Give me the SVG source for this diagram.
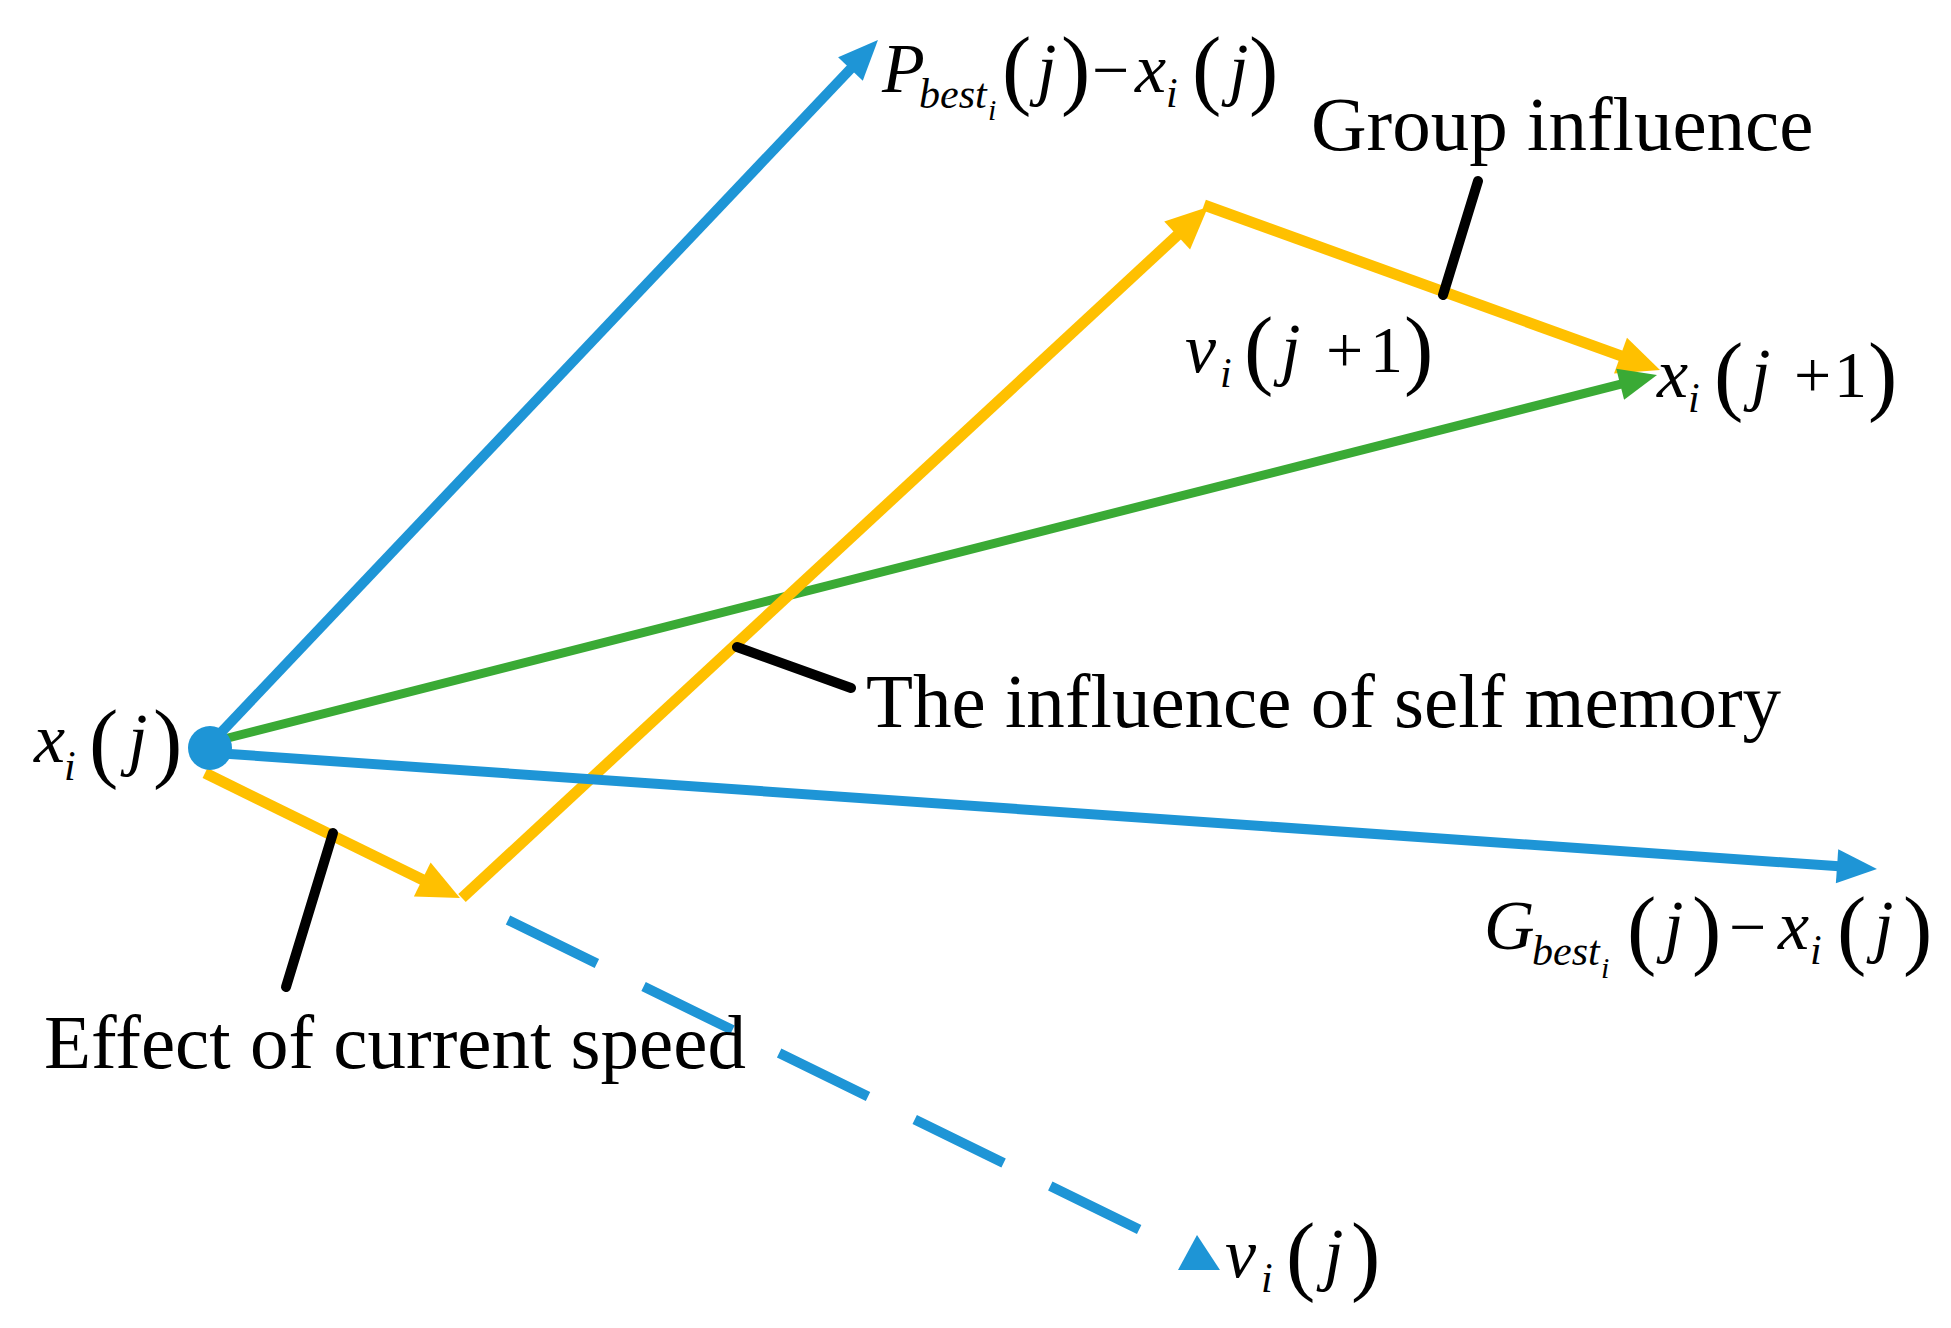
<svg xmlns="http://www.w3.org/2000/svg" width="1951" height="1328" viewBox="0 0 1951 1328">
<style>
.lbl{font-family:"Liberation Serif","Times New Roman",serif;font-size:77px;fill:#000}
.m{font-family:"Liberation Serif","Times New Roman",serif;font-size:70px;fill:#000;font-style:italic}
.r{font-style:normal;font-size:66px}
.p{font-style:normal;font-size:88px}
.s{font-size:42px}
.ss{font-size:30px}
.blue{stroke:#1e95d6;stroke-width:10;fill:none}
.yel{stroke:#ffc000;stroke-width:11;fill:none}
.grn{stroke:#3aaa35;stroke-width:9;fill:none}
.lead{stroke:#000;stroke-width:10;stroke-linecap:round;fill:none}
</style>
<defs>
<marker id="ab" markerUnits="userSpaceOnUse" orient="auto" refX="20" refY="0" markerWidth="44" markerHeight="40" viewBox="0 -20 44 40" overflow="visible"><path d="M0,-17 L40,0 L0,17 Z" fill="#1e95d6"/></marker>
<marker id="ay" markerUnits="userSpaceOnUse" orient="auto" refX="22" refY="0" markerWidth="44" markerHeight="40" viewBox="0 -20 44 40" overflow="visible"><path d="M0,-19 L42,0 L0,19 Z" fill="#ffc000"/></marker>
<marker id="ag" markerUnits="userSpaceOnUse" orient="auto" refX="18" refY="0" markerWidth="40" markerHeight="36" viewBox="0 -18 40 36" overflow="visible"><path d="M0,-16 L38,0 L0,16 Z" fill="#3aaa35"/></marker>
</defs>
<rect width="1951" height="1328" fill="#fff"/>
<g id="connectors">
<path class="blue" d="M508,920 L1140,1230" stroke-dasharray="99 52"/>
<polygon points="1178,1270 1197,1235 1220,1270" fill="#1e95d6"/>
<line class="yel" x1="205" y1="773" x2="442" y2="889.2" marker-end="url(#ay)"/>
<line class="yel" x1="1204" y1="205" x2="1641.2" y2="363.2" marker-end="url(#ay)"/>
<line class="grn" x1="220" y1="740" x2="1637.6" y2="379.9" marker-end="url(#ag)"/>
<line class="yel" x1="462" y1="898" x2="1193.3" y2="220.5" marker-end="url(#ay)"/>
<line class="blue" x1="212" y1="742" x2="864.2" y2="54.5" marker-end="url(#ab)"/>
<line class="blue" x1="215" y1="753" x2="1857" y2="867.6" marker-end="url(#ab)"/>
<line class="lead" x1="333" y1="833" x2="286" y2="987"/>
<line class="lead" x1="737" y1="647" x2="851" y2="688"/>
<line class="lead" x1="1478" y1="181" x2="1443" y2="295"/>
</g>
<g id="origin"><circle cx="210" cy="748" r="22" fill="#1e95d6"/></g>
<g id="label-xi-j">
<text class="m"><tspan x="34" y="762">x</tspan><tspan class="s" x="64" y="780">i</tspan><tspan class="p" x="89" y="771">(</tspan><tspan x="128" y="762">j</tspan><tspan class="p" x="153" y="771">)</tspan></text>
</g>
<g id="label-pbest">
<text class="m"><tspan x="882" y="92">P</tspan><tspan class="s" x="919" y="108">best</tspan><tspan class="ss" x="988" y="120">i</tspan><tspan class="p" x="1002" y="98">(</tspan><tspan x="1037" y="92">j</tspan><tspan class="p" x="1061" y="98">)</tspan><tspan class="r" x="1092" y="92">−</tspan><tspan x="1135" y="92">x</tspan><tspan class="s" x="1166" y="107">i</tspan><tspan class="p" x="1192" y="98">(</tspan><tspan x="1229" y="92">j</tspan><tspan class="p" x="1249" y="98">)</tspan></text>
</g>
<g id="label-gbest">
<text class="m"><tspan x="1484" y="949">G</tspan><tspan class="s" x="1532" y="965">best</tspan><tspan class="ss" x="1601" y="978">i</tspan><tspan class="p" x="1627" y="958">(</tspan><tspan x="1664" y="949">j</tspan><tspan class="p" x="1692" y="958">)</tspan><tspan class="r" x="1729" y="949">−</tspan><tspan x="1778" y="949">x</tspan><tspan class="s" x="1810" y="964">i</tspan><tspan class="p" x="1837" y="958">(</tspan><tspan x="1874" y="949">j</tspan><tspan class="p" x="1903" y="958">)</tspan></text>
</g>
<g id="label-vi-j1">
<text class="m"><tspan x="1185" y="372">v</tspan><tspan class="s" x="1220" y="387">i</tspan><tspan class="p" x="1244" y="378">(</tspan><tspan x="1281" y="372">j</tspan><tspan class="r" x="1326" y="372">+</tspan><tspan class="r" x="1370" y="372">1</tspan><tspan class="p" x="1404" y="378">)</tspan></text>
</g>
<g id="label-xi-j1">
<text class="m"><tspan x="1657" y="397">x</tspan><tspan class="s" x="1688" y="412">i</tspan><tspan class="p" x="1714" y="404">(</tspan><tspan x="1751" y="397">j</tspan><tspan class="r" x="1794" y="397">+</tspan><tspan class="r" x="1834" y="397">1</tspan><tspan class="p" x="1868" y="404">)</tspan></text>
</g>
<g id="label-vi-j">
<text class="m"><tspan x="1225" y="1277">v</tspan><tspan class="s" x="1261" y="1292">i</tspan><tspan class="p" x="1286" y="1284">(</tspan><tspan x="1324" y="1277">j</tspan><tspan class="p" x="1351" y="1284">)</tspan></text>
</g>
<g id="label-group"><text class="lbl" x="1311" y="150">Group influence</text></g>
<g id="label-self"><text class="lbl" x="866" y="727">The influence of self memory</text></g>
<g id="label-effect"><text class="lbl" x="44" y="1068">Effect of current speed</text></g>
</svg>
